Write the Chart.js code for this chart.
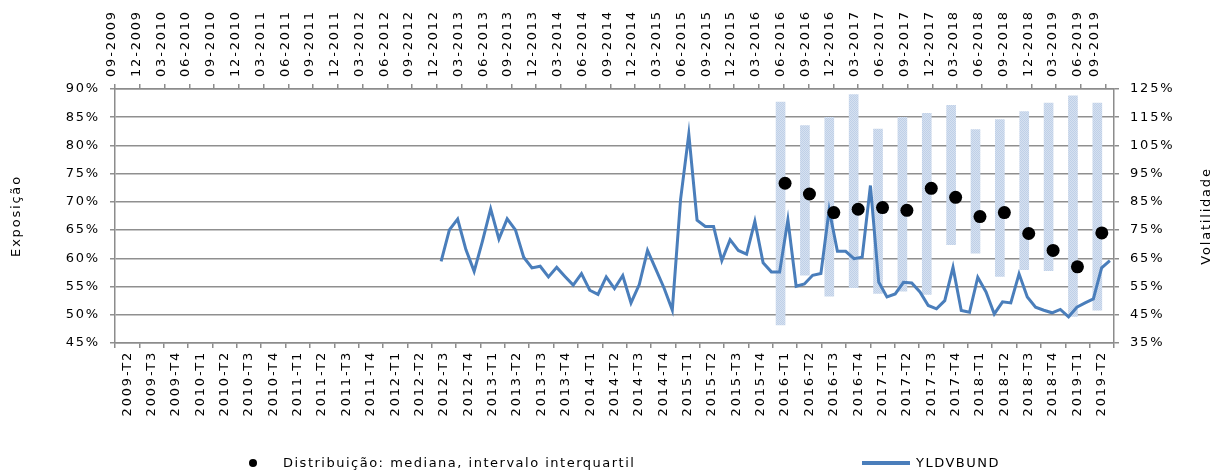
<!DOCTYPE html>
<html lang="pt">
<head>
<meta charset="utf-8">
<script src="https://cdn.jsdelivr.net/npm/chart.js@4.4.1/dist/chart.umd.min.js"></script>
<style>
  html, body { margin: 0; padding: 0; background: #fff; }
  #wrap { position: relative; width: 1219px; height: 475px; }
  #chart { position: absolute; left: 0; top: 0; }
  .lg { position: absolute; font: 13px "DejaVu Sans", Verdana, sans-serif; letter-spacing: 1.5px; color: #000; line-height: 16px; white-space: nowrap; }
  .dot { position: absolute; width: 8px; height: 8px; border-radius: 50%; background: #000; }
  .ln { position: absolute; height: 4px; background: #4a7ebb; }
</style>
</head>
<body>
<div id="wrap">
  <canvas id="chart" width="1219" height="475"></canvas>
  <span class="dot" style="left:249px; top:459px"></span>
  <span class="lg" style="left:283px; top:455px">Distribuição: mediana, intervalo interquartil</span>
  <span class="ln" style="left:862px; top:461px; width:48px"></span>
  <span class="lg" style="left:916px; top:455px">YLDVBUND</span>
</div>
<script>
// eixo inferior: trimestres 2009-T2 .. 2019-T2
const quarterLabels = [];
for (let y = 2009, q = 2; y < 2019 || (y === 2019 && q <= 2); q++) {
  if (q > 4) { q = 1; y++; }
  if (y === 2019 && q > 2) break;
  quarterLabels.push(y + '-T' + q);
}

// eixo superior: meses 09-2009 .. 09-2019
const monthLabels = [];
for (let i = 0; i <= 120; i++) {
  const m = (8 + i) % 12 + 1;
  const y = 2009 + Math.floor((8 + i) / 12);
  monthLabels.push(String(m).padStart(2, '0') + '-' + y);
}

// distribuição (Exposição)
const distQuarters = ['2016-T1', '2016-T2', '2016-T3', '2016-T4', '2017-T1', '2017-T2', '2017-T3',
                      '2017-T4', '2018-T1', '2018-T2', '2018-T3', '2018-T4', '2019-T1', '2019-T2'];
const medians = [73.3, 71.4, 68.1, 68.7, 69.0, 68.5, 72.4, 70.8, 67.4, 68.1, 64.4, 61.4, 58.5, 64.5];
const q1 = [48.2, 57.0, 53.3, 54.8, 53.8, 54.2, 53.6, 62.4, 60.9, 56.8, 58.0, 57.8, 49.7, 50.8];
const q3 = [87.7, 83.5, 85.0, 89.0, 82.9, 85.0, 85.7, 87.1, 82.8, 84.6, 86.0, 87.5, 88.8, 87.5];

// YLDVBUND (Volatilidade), mensal a partir de 12-2012
const yldvStart = '12-2012';
const yldvbund = [
  63.9, 75.1, 78.9, 68.1, 60.4, 71.0, 82.5, 71.8, 79.0, 75.1,
  65.4, 61.6, 62.2, 58.4, 61.8, 58.6, 55.5, 59.6, 53.7, 52.2,
  58.4, 54.3, 58.9, 49.2, 55.7, 67.8, 61.2, 54.5, 46.7, 85.8,
  109.0, 78.5, 76.3, 76.3, 64.2, 71.6, 67.8, 66.5, 78.1, 63.4,
  60.2, 60.2, 78.7, 55.1, 55.9, 59.0, 59.6, 82.2, 67.5, 67.5,
  64.9, 65.4, 90.8, 56.6, 51.3, 52.4, 56.5, 56.3, 53.1, 48.3,
  47.1, 50.0, 61.8, 46.5, 45.9, 58.3, 53.1, 45.3, 49.6, 49.2,
  59.5, 51.3, 47.7, 46.6, 45.7, 46.9, 44.3, 47.7, 49.2, 50.6,
  61.6, 64.2
];

const startIdx = monthLabels.indexOf(yldvStart);
const yldvSeries = monthLabels.map((m, i) => i < startIdx ? null : yldvbund[i - startIdx]);

const axisGray = '#8c8c8c';
const gridGray = '#8f8f8f';

// fundo pontilhado das barras
function dotPattern() {
  const c = document.createElement('canvas');
  c.width = 2; c.height = 2;
  const g = c.getContext('2d');
  g.fillStyle = '#d6e1f0';
  g.fillRect(0, 0, 2, 2);
  g.fillStyle = '#bfd0e8';
  g.fillRect(0, 0, 1, 1);
  g.fillRect(1, 1, 1, 1);
  return g.createPattern(c, 'repeat');
}

const spacing = {
  id: 'spacing',
  beforeUpdate(chart) { chart.ctx.letterSpacing = '1.8px'; },
  beforeDraw(chart) { chart.ctx.letterSpacing = '1.8px'; }
};

const rightTitle = {
  id: 'rightTitle',
  afterDraw(chart) {
    const { ctx, chartArea } = chart;
    ctx.save();
    ctx.font = '13px "DejaVu Sans"';
    ctx.fillStyle = '#000';
    ctx.translate(chart.width - 12, (chartArea.top + chartArea.bottom) / 2);
    ctx.rotate(-Math.PI / 2);
    ctx.textAlign = 'center';
    ctx.textBaseline = 'middle';
    ctx.fillText('Volatilidade', 0, 0);
    ctx.restore();
  }
};

Chart.defaults.font.family = '"DejaVu Sans", Verdana, sans-serif';
Chart.defaults.font.size = 13;
Chart.defaults.color = '#000';

new Chart(document.getElementById('chart'), {
  type: 'bar',
  data: {
    datasets: [
      {
        label: 'Intervalo interquartil',
        data: distQuarters.map((q, i) => ({ x: q, y: [q1[i], q3[i]] })),
        backgroundColor: dotPattern(),
        borderWidth: 0,
        barThickness: 9,
        xAxisID: 'x',
        yAxisID: 'y',
        order: 3
      },
      {
        type: 'line',
        label: 'Distribuição: mediana, intervalo interquartil',
        data: distQuarters.map((q, i) => ({ x: q, y: medians[i] })),
        showLine: false,
        pointRadius: 6.5,
        pointBackgroundColor: '#000',
        pointBorderWidth: 0,
        xAxisID: 'x',
        yAxisID: 'y',
        order: 1
      },
      {
        type: 'line',
        label: 'YLDVBUND',
        data: yldvSeries,
        borderColor: '#4a7ebb',
        borderWidth: 3,
        pointRadius: 0,
        tension: 0,
        xAxisID: 'x2',
        yAxisID: 'y1',
        order: 2
      }
    ]
  },
  options: {
    responsive: false,
    animation: false,
    layout: { padding: 0 },
    plugins: {
      legend: { display: false },
      tooltip: { enabled: false }
    },
    scales: {
      x: {
        type: 'category',
        labels: quarterLabels,
        position: 'bottom',
        offset: true,
        grid: { offset: true, drawOnChartArea: false, tickLength: 5, color: axisGray, lineWidth: 1.5 },
        border: { color: axisGray, width: 1.5 },
        ticks: { autoSkip: false, minRotation: 90, maxRotation: 90, padding: 3 },
        afterFit: s => { s.height = 132; }
      },
      x2: {
        type: 'category',
        labels: monthLabels,
        position: 'top',
        offset: true,
        grid: {
          offset: true, drawOnChartArea: false, tickLength: 5, lineWidth: 1.5,
          color: axisGray,
          tickColor: c => c.index % 3 === 0 ? axisGray : 'rgba(0,0,0,0)'
        },
        border: { color: axisGray, width: 1.5 },
        ticks: {
          autoSkip: false, minRotation: 90, maxRotation: 90, padding: 7,
          callback: (v, i) => {
            if (i % 3 === 1) return monthLabels[i - 1];
            if (i === monthLabels.length - 1 && i % 3 === 0) return monthLabels[i];
            return '';
          }
        },
        afterFit: s => { s.height = 89; }
      },
      y: {
        position: 'left',
        min: 45,
        max: 90,
        ticks: { stepSize: 5, padding: 10, callback: v => v + '%' },
        grid: { color: gridGray, lineWidth: 1.5, tickLength: 5 },
        border: { color: axisGray, width: 1.5 },
        title: { display: true, text: 'Exposição', padding: { top: 9, bottom: 0 } },
        afterFit: s => { s.width = 115; }
      },
      y1: {
        position: 'right',
        min: 35,
        max: 125,
        ticks: { stepSize: 10, padding: 11, callback: v => v + '%' },
        grid: { drawOnChartArea: false, color: axisGray, lineWidth: 1.5, tickLength: 5 },
        border: { color: axisGray, width: 1.5 },
        afterFit: s => { s.width = 105; }
      }
    }
  },
  plugins: [spacing, rightTitle]
});
</script>
</body>
</html>
